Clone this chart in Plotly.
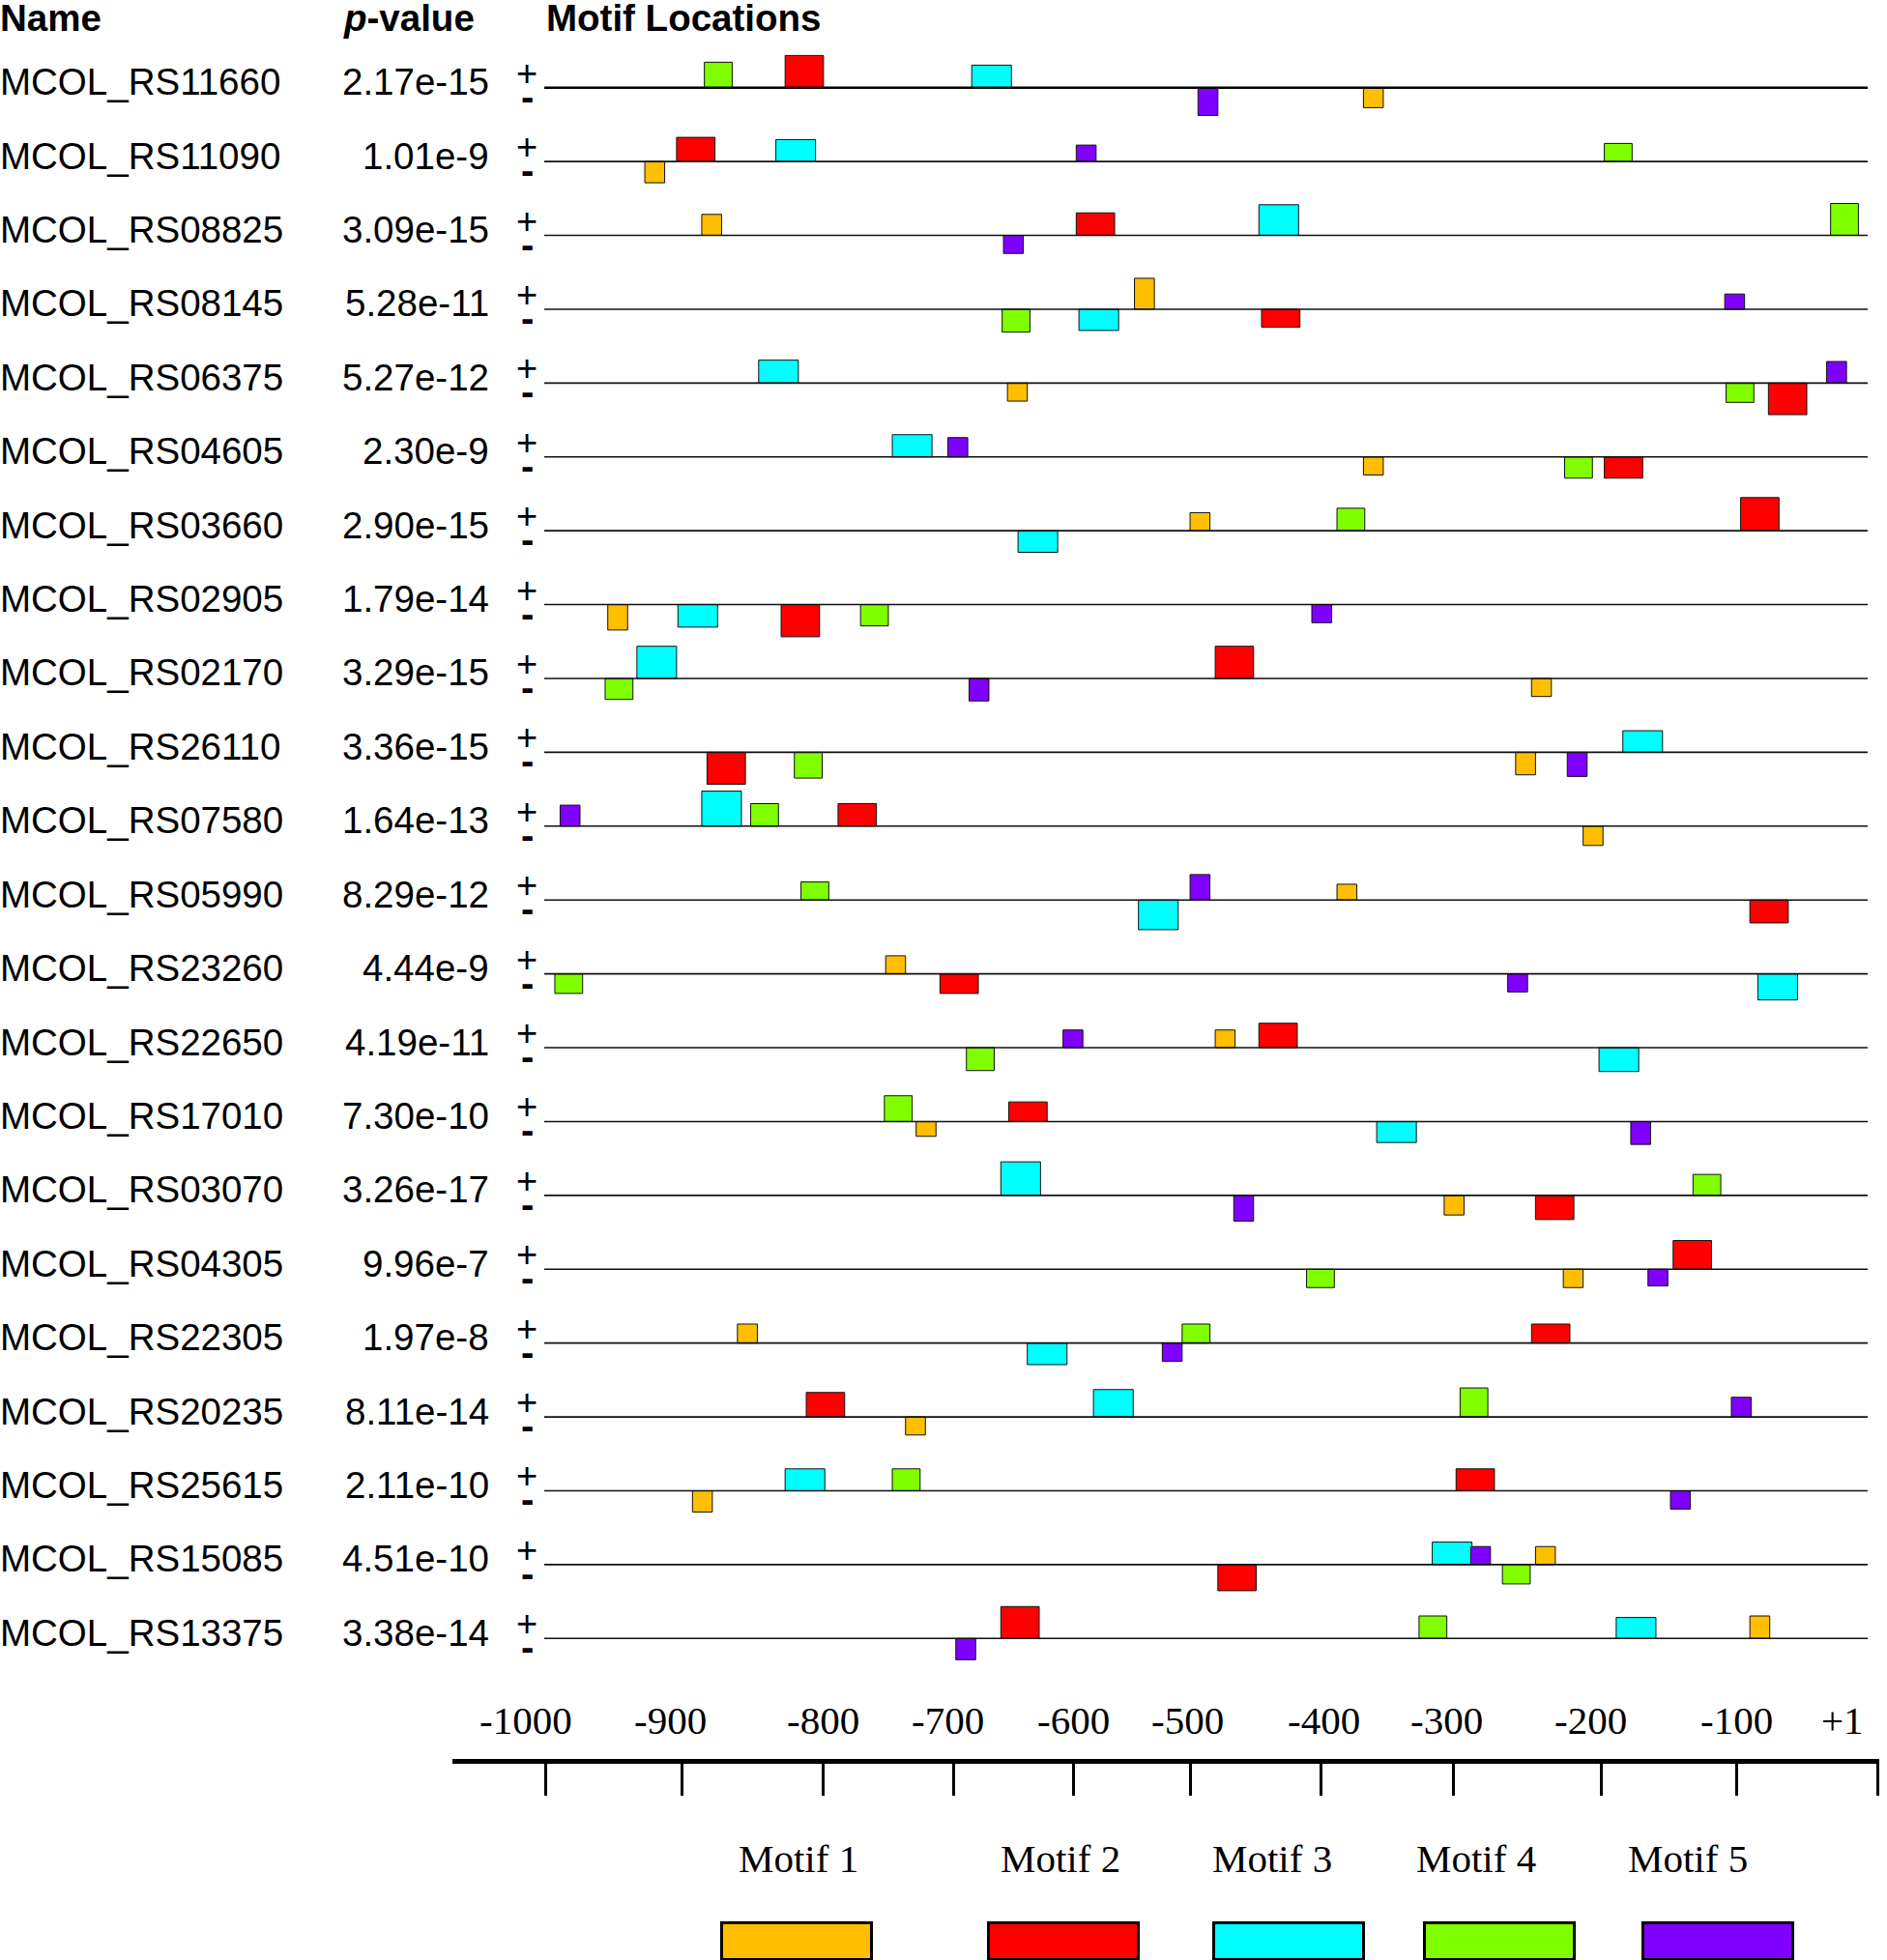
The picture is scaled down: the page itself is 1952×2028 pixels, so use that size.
import plotly.graph_objects as go

# ---------------- data ----------------
seq_names = ["MCOL_RS11660", "MCOL_RS11090", "MCOL_RS08825", "MCOL_RS08145", "MCOL_RS06375",
             "MCOL_RS04605", "MCOL_RS03660", "MCOL_RS02905", "MCOL_RS02170", "MCOL_RS26110",
             "MCOL_RS07580", "MCOL_RS05990", "MCOL_RS23260", "MCOL_RS22650", "MCOL_RS17010",
             "MCOL_RS03070", "MCOL_RS04305", "MCOL_RS22305", "MCOL_RS20235", "MCOL_RS25615",
             "MCOL_RS15085", "MCOL_RS13375"]
p_values = ["2.17e-15", "1.01e-9", "3.09e-15", "5.28e-11", "5.27e-12", "2.30e-9", "2.90e-15",
            "1.79e-14", "3.29e-15", "3.36e-15", "1.64e-13", "8.29e-12", "4.44e-9", "4.19e-11",
            "7.30e-10", "3.26e-17", "9.96e-7", "1.97e-8", "8.11e-14", "2.11e-10", "4.51e-10",
            "3.38e-14"]

motif_labels = ["Motif 1", "Motif 2", "Motif 3", "Motif 4", "Motif 5"]
motif_widths = [15, 29, 30, 21, 15]          # bp

# per motif: sequence row, start (bp), signed height (+ strand > 0, - strand < 0)
m1_rows = [0, 1, 2, 3, 4, 5, 6, 7, 8, 9, 10, 11, 12, 13, 14, 15, 16, 17, 18, 19, 20, 21]
m1_start = [-381, -924, -881, -554, -650, -381, -512, -952, -254, -266, -215, -401, -742, -493,
            -719, -320, -230, -854, -727, -888, -251, -89]
m1_height = [-20.7, -22, 21.7, 32, -18.7, -18.7, 18.7, -26.3, -18.7, -23.3, -20, 16.3, 18.7, 18.3,
             -15.3, -20.3, -19, 19.7, -18.7, -22, 18.7, 23.3]

m2_rows = [0, 1, 2, 3, 4, 5, 6, 7, 8, 9, 10, 11, 12, 13, 14, 15, 16, 17, 18, 19, 20, 21]
m2_start = [-818, -900, -598, -458, -75, -199, -96, -821, -493, -877, -778, -89, -701, -460,
            -649, -251, -147, -254, -802, -311, -491, -655]
m2_height = [33.3, 25, 23.3, -18.7, -32.7, -22, 34.3, -33.3, 33.3, -33, 23.3, -23.7, -20.3, 25.3,
             20.3, -25, 29.7, 19.7, 25.3, 22.7, -27, 33]

m3_rows = [0, 1, 2, 3, 4, 5, 6, 7, 8, 9, 10, 11, 12, 13, 14, 15, 17, 18, 19, 20, 21]
m3_start = [-677, -825, -460, -596, -838, -737, -642, -899, -930, -185, -881, -551, -83, -203,
            -371, -655, -635, -585, -818, -329, -190]
m3_height = [23.3, 22.7, 31.7, -22, 23.7, 23, -22.3, -23.3, 33.3, 22.3, 36.3, -30.7, -27, -24.7,
             -21.7, 34.7, -22.3, 28.3, 22.7, 23.3, 21.7]

m4_rows = [0, 1, 2, 3, 4, 5, 6, 7, 8, 9, 10, 11, 12, 13, 14, 15, 16, 17, 18, 19, 20, 21]
m4_start = [-879, -199, -28, -654, -107, -229, -401, -761, -954, -811, -844, -806, -992, -681,
            -743, -132, -424, -518, -308, -737, -276, -339]
m4_height = [26.3, 18.7, 33, -23.7, -20, -22, 23.3, -22, -21.7, -26.7, 23.3, 18.7, -20.3, -23.7,
             26.7, 21.7, -19, 19.7, 30, 22.7, -20, 23.3]

m5_rows = [0, 1, 2, 3, 4, 5, 7, 8, 9, 10, 11, 12, 13, 14, 15, 16, 17, 18, 19, 20, 21]
m5_start = [-506, -598, -653, -108, -31, -695, -420, -679, -227, -988, -512, -272, -608, -179,
            -479, -166, -533, -103, -149, -300, -689]
m5_height = [-28.7, 17, -18.7, 15.7, 22.3, 20, -18.7, -23.3, -25, 21.7, 26.3, -18.7, 18.3, -23.7,
             -26.7, -17.3, -19, 20.3, -19, 18.7, -22]

ruler_labels = ["-1000", "-900", "-800", "-700", "-600", "-500", "-400", "-300", "-200", "-100", "+1"]
ruler_tick_pos = [-999, -896, -789, -691, -600, -512, -413, -313, -201, -99, 7.5]
ruler_label_pos = [-1014, -905, -789, -695, -600, -514, -411, -318, -209, -99, -19]

# ---------------- style / layout ----------------
W, H = 1952, 2028
ROW0_PX, ROW_PX = 90.7, 76.41
colors = ["#FFBF00", "#FF0000", "#00FFFF", "#80FF00", "#8000FF"]
n = len(seq_names)

fig = go.Figure()

# sequence lines
lx, ly = [], []
for i in range(1, n):
    lx += [-1000, 0, None]
    ly += [i, i, None]
fig.add_trace(go.Scatter(x=lx, y=ly, mode="lines", line=dict(color="#111111", width=1.6),
                         hoverinfo="skip", showlegend=False))
fig.add_trace(go.Scatter(x=[-1000, 0], y=[0, 0], mode="lines", line=dict(color="black", width=2.6),
                         hoverinfo="skip", showlegend=False))

motifs = [(m1_rows, m1_start, m1_height), (m2_rows, m2_start, m2_height),
          (m3_rows, m3_start, m3_height), (m4_rows, m4_start, m4_height),
          (m5_rows, m5_start, m5_height)]
for k, (rows, starts, heights) in enumerate(motifs):
    w = motif_widths[k]
    fig.add_trace(go.Bar(
        x=[s + w / 2 for s in starts],
        y=[-h / ROW_PX for h in heights],
        base=rows,
        width=[w] * len(rows),
        marker=dict(color=colors[k], line=dict(color="#111111", width=1)),
        name=motif_labels[k], showlegend=False, hoverinfo="skip",
    ))

# ruler axis (x2/y2)
ruler_top = 1825
fig.add_trace(go.Scatter(x=[-500], y=[0], xaxis="x2", yaxis="y2", mode="markers",
                         marker=dict(size=1, color="rgba(0,0,0,0)"), hoverinfo="skip",
                         showlegend=False))

ann = []
name_font = dict(family="Liberation Sans, Arial", size=38.5, color="black")
pv_font = dict(family="Liberation Sans, Arial", size=38.5, color="black")
for i in range(n):
    ann.append(dict(x=0, xref="paper", y=i, yref="y", text=seq_names[i], showarrow=False,
                    xanchor="left", yanchor="middle", yshift=6, xshift=-2, font=name_font))
    ann.append(dict(x=508 / W, xref="paper", y=i, yref="y", text=p_values[i], showarrow=False,
                    xanchor="right", yanchor="middle", yshift=6, font=pv_font))
    ann.append(dict(x=545 / W, xref="paper", y=i, yref="y", text="+", showarrow=False,
                    xanchor="center", yanchor="middle", yshift=15,
                    font=dict(family="Liberation Sans, Arial", size=38, color="black")))
    ann.append(dict(x=545 / W, xref="paper", y=i, yref="y", text="<b>-</b>", showarrow=False,
                    xanchor="center", yanchor="middle", yshift=-9,
                    font=dict(family="Liberation Sans, Arial", size=40, color="black")))

head_font = dict(family="Liberation Sans, Arial", size=38.5, color="black")
hy = 1 - 18 / H
ann.append(dict(x=0, xref="paper", y=hy, yref="paper", text="<b>Name</b>", showarrow=False,
                xanchor="left", yanchor="middle", xshift=-2, font=head_font))
ann.append(dict(x=353 / W, xref="paper", y=hy, yref="paper", text="<b><i>p</i>-value</b>",
                showarrow=False, xanchor="left", yanchor="middle", font=head_font))
ann.append(dict(x=563 / W, xref="paper", y=hy, yref="paper", text="<b>Motif Locations</b>",
                showarrow=False, xanchor="left", yanchor="middle", font=head_font))

serif = dict(family="Liberation Serif, Times New Roman", size=41, color="black")
for lab, pos in zip(ruler_labels, ruler_label_pos):
    ann.append(dict(x=pos, xref="x2", y=1 - 1780 / H, yref="paper", text=lab, showarrow=False,
                    xanchor="center", yanchor="middle", font=serif))

legend_label_x = [826, 1097, 1316, 1527, 1746]
legend_box_x = [824, 1100, 1333, 1551, 1777]
for k in range(5):
    ann.append(dict(x=legend_label_x[k] / W, xref="paper", y=1 - 1923 / H, yref="paper",
                    text=motif_labels[k], showarrow=False, xanchor="center", yanchor="middle",
                    font=serif))
    ann.append(dict(x=legend_box_x[k] / W, xref="paper", y=1 - 2008 / H, yref="paper",
                    text=" ", showarrow=False, xanchor="center", yanchor="middle",
                    width=152, height=35, bgcolor=colors[k], bordercolor="black",
                    borderwidth=3, borderpad=0, font=dict(size=10)))

fig.update_layout(
    width=W, height=H, margin=dict(l=0, r=0, t=0, b=0),
    paper_bgcolor="white", plot_bgcolor="rgba(0,0,0,0)",
    barmode="overlay", showlegend=False,
    xaxis=dict(domain=[563 / W, 1932 / W], range=[-1000, 0], visible=False, fixedrange=True),
    yaxis=dict(domain=[0, 1], range=[(H - ROW0_PX) / ROW_PX, -ROW0_PX / ROW_PX], visible=False),
    xaxis2=dict(domain=[468 / W, 1944 / W],
                range=[-1000 - 95 / 1.369, (1944 - 563) / 1.369 - 1000],
                anchor="y2", side="top", ticks="inside", ticklen=33, tickwidth=3,
                tickcolor="black", tickvals=ruler_tick_pos, showticklabels=False,
                showline=True, linewidth=5, linecolor="black", showgrid=False, zeroline=False),
    yaxis2=dict(domain=[0.02, 1 - ruler_top / H], range=[0, 1], visible=False),
    annotations=ann,
)

fig.write_html("out.html", config={"displayModeBar": False},
               post_script="document.body.style.margin='0';")
